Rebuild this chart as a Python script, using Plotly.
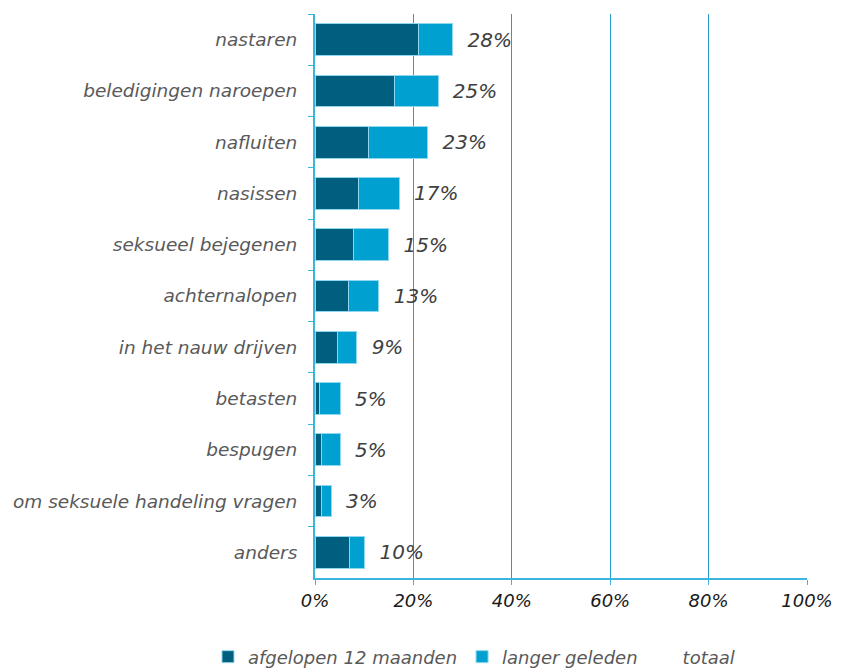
import plotly.graph_objects as go

categories = [
    "nastaren", "beledigingen naroepen", "nafluiten", "nasissen",
    "seksueel bejegenen", "achternalopen", "in het nauw drijven",
    "betasten", "bespugen", "om seksuele handeling vragen", "anders",
]
afgelopen = [21.0, 16.1, 10.9, 8.9, 7.9, 6.9, 4.6, 1.0, 1.3, 1.3, 7.0]
langer = [7.0, 8.9, 12.0, 8.2, 7.1, 6.1, 3.9, 4.1, 3.8, 2.0, 3.1]
totaal = [28, 25, 23, 17, 15, 13, 9, 5, 5, 3, 10]

DARK = "#005f7f"
LIGHT = "#00a0d0"
EDGE = "#8fd6ee"
AXIS = "#3cb4e0"
GRID = "#2a9ccb"
FONT = "DejaVu Sans"

fig = go.Figure()

fig.add_trace(go.Bar(
    y=categories, x=afgelopen, orientation="h",
    name="afgelopen 12 maanden",
    marker=dict(color=DARK, line=dict(color=EDGE, width=1)),
))

fig.add_trace(go.Bar(
    y=categories, x=langer, orientation="h",
    name="langer geleden",
    marker=dict(color=LIGHT, line=dict(color=EDGE, width=1)),
))

# invisible spacer that carries the total labels
fig.add_trace(go.Bar(
    y=categories, x=[2.4] * len(categories), orientation="h",
    name="totaal",
    marker=dict(color="rgba(0,0,0,0)", line=dict(width=0)),
    text=[f"{t}%" for t in totaal],
    textposition="outside",
    constraintext="none",
    cliponaxis=False,
    outsidetextfont=dict(family=FONT, size=20, color="#404040", style="italic"),
    hoverinfo="skip",
))

# page body adds an 8px margin; figure is a bit taller than the window so
# the legend never has to push the plot area up
fig.update_layout(
    width=833,
    height=700,
    barmode="stack",
    bargap=0.38,
    plot_bgcolor="white",
    paper_bgcolor="white",
    margin=dict(l=307, r=34, t=6, b=130),
    font=dict(family=FONT, size=18, color="#595959", style="italic"),
    legend=dict(
        orientation="h",
        x=-0.2175, xanchor="left",
        y=-0.14, yanchor="middle",
        font=dict(family=FONT, size=18, color="#595959", style="italic"),
        itemwidth=30,
        traceorder="normal",
    ),
)

fig.update_xaxes(
    range=[0, 100],
    dtick=20,
    ticksuffix="%",
    showgrid=True,
    gridcolor=GRID,
    gridwidth=1,
    showline=True,
    linecolor=AXIS,
    linewidth=2,
    ticks="outside",
    ticklen=5,
    tickcolor=AXIS,
    tickfont=dict(family=FONT, size=18, color="#1a1a1a", style="italic"),
    zeroline=False,
    automargin=False,
)

fig.update_yaxes(
    autorange="reversed",
    showline=True,
    linecolor=AXIS,
    linewidth=2,
    ticks="outside",
    ticklen=5,
    tickcolor=AXIS,
    tickson="boundaries",
    ticklabelstandoff=12,
    tickfont=dict(family=FONT, size=18.5, color="#595959", style="italic"),
    automargin=False,
)

fig.write_html("out.html")
